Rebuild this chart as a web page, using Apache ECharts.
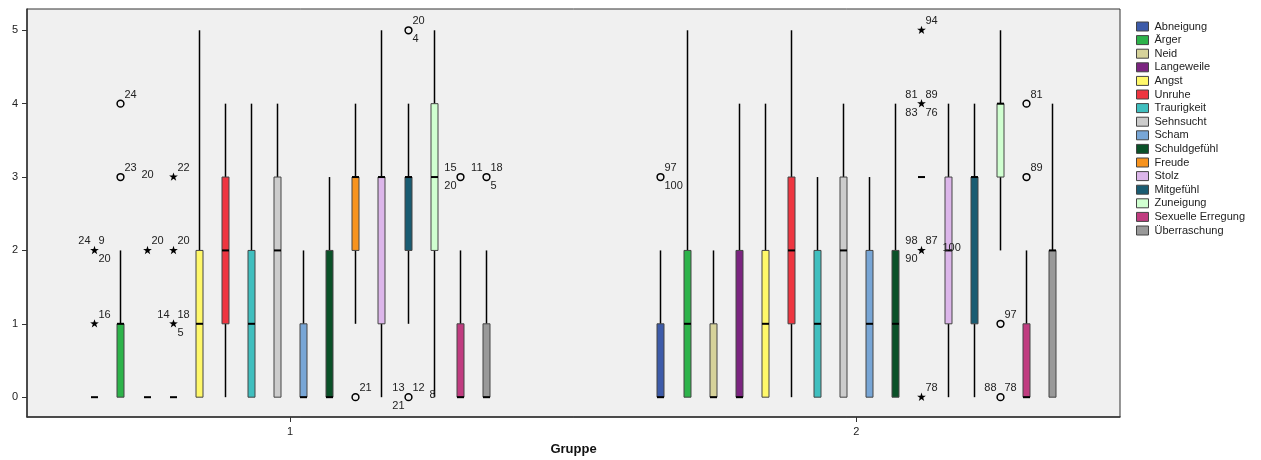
<!DOCTYPE html>
<html><head><meta charset="utf-8">
<script src="https://cdn.jsdelivr.net/npm/echarts@6/dist/echarts.min.js"></script>
<style>html,body{margin:0;padding:0;background:#fff}#c{width:1261px;height:460px}</style>
</head><body><div id="c"></div>
<script>
// ---------- data ----------
const groups = [1, 2];
const groupLabels = ['1', '2'];
const emotions = ['Abneigung', 'Ärger', 'Neid', 'Langeweile', 'Angst', 'Unruhe', 'Traurigkeit', 'Sehnsucht',
  'Scham', 'Schuldgefühl', 'Freude', 'Stolz', 'Mitgefühl', 'Zuneigung', 'Sexuelle Erregung', 'Überraschung'];
const colors = ['#3d5ba9', '#2db34a', '#d6d29a', '#7b2480', '#fff86a', '#ee3540', '#40bfbf', '#cccccc',
  '#78a6d6', '#0a5128', '#f7931e', '#dcb6ea', '#1a5c72', '#d0ffd0', '#c03c80', '#999999'];
// [whisker min, Q1, median, Q3, whisker max]
const group1Stats = [
  [0, 0, 0, 0, 0], [0, 0, 1, 1, 2], [0, 0, 0, 0, 0], [0, 0, 0, 0, 0],
  [0, 0, 1, 2, 5], [0, 1, 2, 3, 4], [0, 0, 1, 2, 4], [0, 0, 2, 3, 4],
  [0, 0, 0, 1, 2], [0, 0, 0, 2, 3], [1, 2, 3, 3, 4], [0, 1, 3, 3, 5],
  [1, 2, 3, 3, 4], [0, 2, 3, 4, 5], [0, 0, 0, 1, 2], [0, 0, 0, 1, 2]
];
const group2Stats = [
  [0, 0, 0, 1, 2], [0, 0, 1, 2, 5], [0, 0, 0, 1, 2], [0, 0, 0, 2, 4],
  [0, 0, 1, 2, 4], [0, 1, 2, 3, 5], [0, 0, 1, 2, 3], [0, 0, 2, 3, 4],
  [0, 0, 1, 2, 3], [0, 0, 1, 2, 4], [3, 3, 3, 3, 3], [0, 1, 2, 3, 4],
  [0, 1, 3, 3, 4], [2, 3, 4, 4, 5], [0, 0, 0, 1, 2], [0, 0, 2, 2, 4]
];
// [emotion index, group, value, marker ('o' = outlier, '*' = extreme), case labels]
const outliers = [
  [0, 1, 2, '*', {tl: '24', tr: '9', br: '20'}],
  [0, 1, 1, '*', {tr: '16'}],
  [1, 1, 4, 'o', {tr: '24'}],
  [1, 1, 3, 'o', {tr: '23', r: '20'}],
  [2, 1, 2, '*', {tr: '20'}],
  [3, 1, 3, '*', {tr: '22'}],
  [3, 1, 2, '*', {tr: '20'}],
  [3, 1, 1, '*', {tl: '14', tr: '18', br: '5'}],
  [10, 1, 0, 'o', {tr: '21'}],
  [12, 1, 5, 'o', {tr: '20', br: '4'}],
  [12, 1, 0, 'o', {tl: '13', tr: '12', bl: '21', r: '8'}],
  [14, 1, 3, 'o', {tl: '15', bl: '20'}],
  [15, 1, 3, 'o', {tl: '11', tr: '18', br: '5'}],
  [0, 2, 3, 'o', {tr: '97', br: '100'}],
  [10, 2, 5, '*', {tr: '94'}],
  [10, 2, 4, '*', {tl: '81', tr: '89', bl: '83', br: '76'}],
  [10, 2, 2, '*', {tl: '98', tr: '87', bl: '90', r: '100'}],
  [10, 2, 0, '*', {tr: '78'}],
  [13, 2, 1, 'o', {tr: '97'}],
  [13, 2, 0, 'o', {tl: '88', tr: '78'}],
  [14, 2, 4, 'o', {tr: '81'}],
  [14, 2, 3, 'o', {tr: '89'}]
];
const yTicks = [0, 1, 2, 3, 4, 5];
const xTitle = 'Gruppe';

// ---------- layout helpers ----------
const SLOT = 0.04611;               // spacing between boxes in axis units
const slotX = (g, i) => g + (i - (emotions.length - 1) / 2) * SLOT;
const FONT = '11px "Liberation Sans", Arial, sans-serif';
const HW = 3.5;

const stats = [group1Stats, group2Stats];

const boxSeries = emotions.map((name, i) => ({
  name: name,
  type: 'custom',
  itemStyle: {color: colors[i], borderColor: '#444', borderWidth: 1},
  encode: {x: 0, y: [1, 2, 3, 4, 5]},
  data: groups.map((g, gi) => [slotX(g, i)].concat(stats[gi][i])),
  z: 2,
  renderItem: function (params, api) {
    const x = api.value(0);
    const c = k => api.coord([x, api.value(k)]);
    const pMin = c(1), pQ1 = c(2), pMed = c(3), pQ3 = c(4), pMax = c(5);
    const cx = Math.round(pMin[0]) + 0.5;
    const children = [];
    if (pMax[1] < pQ3[1]) children.push({type: 'line', shape: {x1: cx, y1: pMax[1], x2: cx, y2: pQ3[1]}, style: {stroke: '#000', lineWidth: 1.5}});
    if (pMin[1] > pQ1[1]) children.push({type: 'line', shape: {x1: cx, y1: pQ1[1], x2: cx, y2: pMin[1]}, style: {stroke: '#000', lineWidth: 1.5}});
    if (pQ1[1] - pQ3[1] > 0.5) children.push({type: 'rect', shape: {x: cx - HW, y: pQ3[1], width: HW * 2, height: pQ1[1] - pQ3[1]}, style: {fill: colors[i], stroke: '#444', lineWidth: 1}});
    children.push({type: 'line', shape: {x1: cx - HW, y1: pMed[1], x2: cx + HW, y2: pMed[1]}, style: {stroke: '#000', lineWidth: 2}});
    return {type: 'group', children: children};
  }
}));

function starPoints(cx, cy, ro, ri) {
  const pts = [];
  for (let k = 0; k < 10; k++) {
    const r = k % 2 ? ri : ro;
    const a = -Math.PI / 2 + k * Math.PI / 5;
    pts.push([cx + r * Math.cos(a), cy + r * Math.sin(a)]);
  }
  return pts;
}

const outlierSeries = {
  name: 'outliers',
  type: 'custom',
  z: 5,
  encode: {x: 0, y: 1},
  data: outliers.map(o => [slotX(o[1], o[0]), o[2]]),
  renderItem: function (params, api) {
    const o = outliers[params.dataIndex];
    const p = api.coord([api.value(0), api.value(1)]);
    const cx = Math.round(p[0]) + 0.5, cy = p[1];
    const children = [];
    if (o[3] === 'o') {
      children.push({type: 'circle', shape: {cx: cx, cy: cy, r: 3.4}, style: {fill: 'none', stroke: '#000', lineWidth: 1.5}});
    } else {
      children.push({type: 'polygon', shape: {points: starPoints(cx, cy, 4.6, 1.8)}, style: {fill: '#000'}});
    }
    const L = o[4];
    const t = (txt, x, y, align) => children.push({type: 'text', x: x, y: y,
      style: {text: txt, fill: '#222', font: FONT, textAlign: align, textVerticalAlign: 'middle'}});
    if (L.tl) t(L.tl, cx - 4, cy - 9, 'right');
    if (L.tr) t(L.tr, cx + 4, cy - 9, 'left');
    if (L.bl) t(L.bl, cx - 4, cy + 9, 'right');
    if (L.br) t(L.br, cx + 4, cy + 9, 'left');
    if (L.r) t(L.r, cx + 21, cy - 2, 'left');
    return {type: 'group', children: children};
  }
};

const chart = echarts.init(document.getElementById('c'), null, {renderer: 'canvas'});
chart.setOption({
  animation: false,
  backgroundColor: '#ffffff',
  textStyle: {fontFamily: '"Liberation Sans", Arial, sans-serif'},
  grid: {left: 27, right: 141, top: 9, bottom: 43, outerBoundsMode: 'none', containLabel: false,
    show: true, backgroundColor: '#f0f0f0', borderColor: '#333', borderWidth: 1},
  legend: {
    orient: 'vertical', left: 1136, top: 21, padding: 0,
    itemWidth: 12, itemHeight: 9, itemGap: 2.6,
    textStyle: {fontSize: 11, color: '#222', lineHeight: 9, padding: [0, 0, 0, 1]},
    data: emotions.map((n, i) => ({name: n, icon: 'rect', itemStyle: {color: colors[i], borderColor: '#444', borderWidth: 1}}))
  },
  xAxis: {
    type: 'value', min: 0.5353, max: 2.466,
    name: xTitle, nameLocation: 'middle', nameGap: 26,
    nameTextStyle: {fontSize: 13, fontWeight: 'bold', color: '#111'},
    axisLine: {onZero: false, lineStyle: {color: '#333', width: 1.5}},
    axisTick: {customValues: groups, length: 5, lineStyle: {color: '#333'}},
    axisLabel: {customValues: groups, margin: 9, fontSize: 11, color: '#222',
      formatter: v => groupLabels[groups.indexOf(v)]},
    splitLine: {show: false}
  },
  yAxis: {
    type: 'value', min: -0.27, max: 5.29,
    axisLine: {show: true, onZero: false, lineStyle: {color: '#333', width: 1.5}},
    axisTick: {show: true, customValues: yTicks, length: 5, lineStyle: {color: '#333'}},
    axisLabel: {customValues: yTicks, margin: 9, fontSize: 11, color: '#222'},
    splitLine: {show: false}
  },
  series: boxSeries.concat([outlierSeries])
});
</script>
</body></html>
